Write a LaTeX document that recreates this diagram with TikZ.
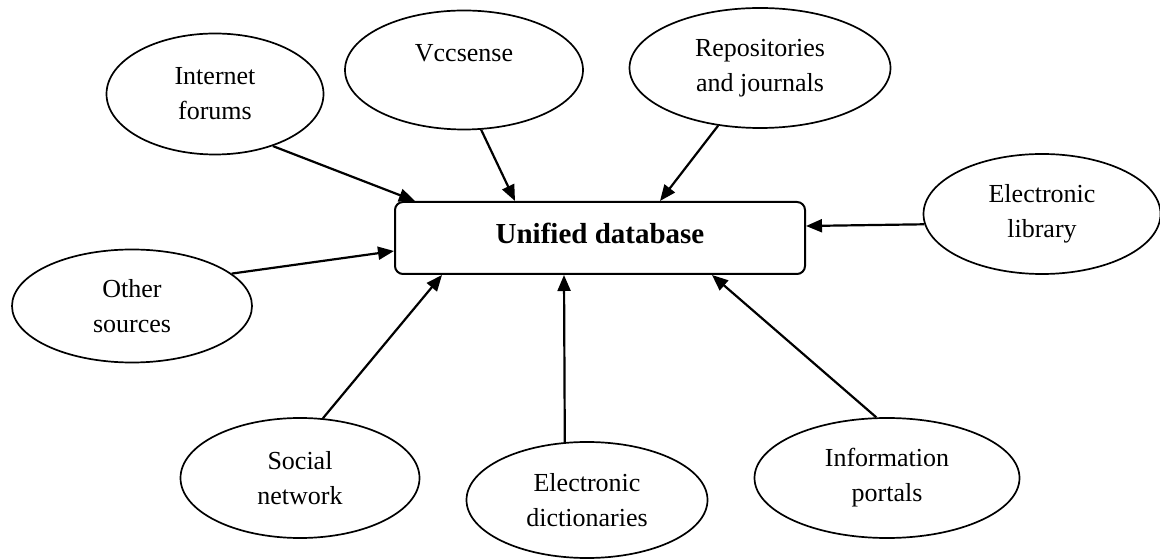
\documentclass[tikz,border=0pt]{standalone}
\usepackage{fontspec}
\setmainfont{Liberation Serif}
\usetikzlibrary{shapes.geometric,arrows.meta,calc}
\begin{document}
\begin{tikzpicture}[x=0.5pt,y=-0.5pt,
    src/.style 2 args={draw,ellipse,line width=0.85pt,inner sep=0pt,align=center,
        minimum width=#1,minimum height=#2,font=\fontsize{13}{17.5}\selectfont},
    feed/.style={-{Triangle[length=8pt,width=6.5pt]},line width=1.1pt}]
    \useasboundingbox (0,0) rectangle (1160,560);
    \node[draw,rounded corners=4pt,line width=1pt,minimum width=205pt,minimum height=36pt,
        text depth=5pt,font=\fontsize{14.5}{17}\selectfont\bfseries] (db) at (600,238) {Unified database};
    \node[src={108.5pt}{60.5pt}] (forums) at (215,94) {Internet\\forums};
    \node[src={119pt}{59.5pt}] (vccsense) at (464,70) {Vccsense\\~};
    \node[src={130.5pt}{60pt}] (repos) at (760,68) {Repositories\\and journals};
    \node[src={118.5pt}{60pt}] (library) at (1042,214) {Electronic\\library};
    \node[src={120pt}{56.5pt}] (other) at (132,306) {Other\\sources};
    \node[src={119.5pt}{60pt}] (social) at (300,478) {Social\\network};
    \node[src={120.5pt}{58pt}] (dict) at (587,500) {Electronic\\dictionaries};
    \node[src={132.5pt}{60pt}] (portals) at (887,478) {Information\\portals};
    \draw[feed] (forums.-42.4) -- ($(db.north west)+(21,0)$);
    \draw[feed] (vccsense.-74.8) -- ($(db.north west)+(121,0)$);
    \draw[feed] (repos.-126.6) -- ($(db.north)+(60,0)$);
    \draw[feed] (library.185.8) -- ($(db.east)+(0,-12)$);
    \draw[feed] (other.18.3) -- ($(db.west)+(0,13)$);
    \draw[feed] (social.69) -- ($(db.south west)+(48,0)$);
    \draw[feed] (dict.111.6) -- ($(db.south)+(-36,0)$);
    \draw[feed] (portals.100.4) -- ($(db.south)+(112,0)$);
\end{tikzpicture}
\end{document}
